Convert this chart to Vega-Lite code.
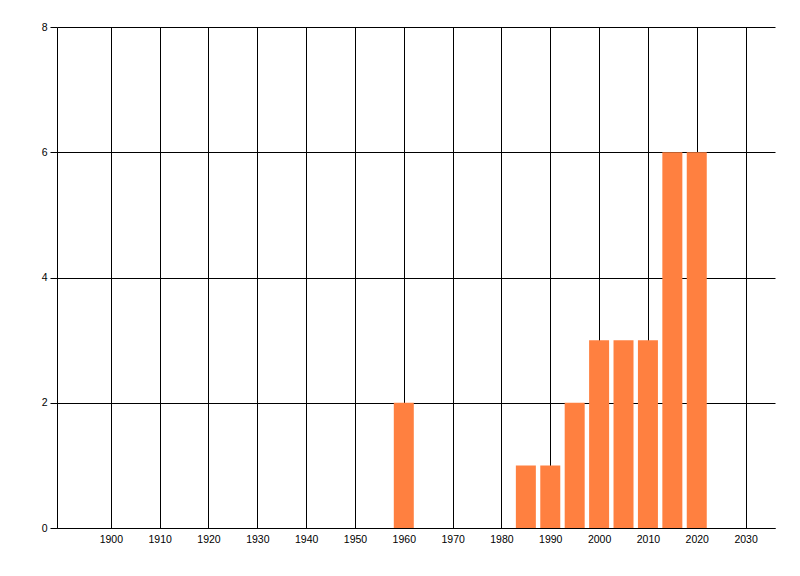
{
  "$schema": "https://vega.github.io/schema/vega-lite/v6.json",
  "width": 718,
  "height": 501,
  "autosize": "none",
  "padding": {"left": 57, "top": 27, "right": 25, "bottom": 48},
  "background": "white",
  "config": {"view": {"stroke": null}},
  "data": {
    "values": [
      {"year": 1960, "count": 2},
      {"year": 1985, "count": 1},
      {"year": 1990, "count": 1},
      {"year": 1995, "count": 2},
      {"year": 2000, "count": 3},
      {"year": 2005, "count": 3},
      {"year": 2010, "count": 3},
      {"year": 2015, "count": 6},
      {"year": 2020, "count": 6}
    ]
  },
  "mark": {"type": "bar", "width": 20, "color": "#ff8040"},
  "encoding": {
    "x": {
      "field": "year",
      "type": "quantitative",
      "scale": {"domain": [1890, 2035], "nice": false, "zero": false},
      "axis": {
        "title": null,
        "values": [1900, 1910, 1920, 1930, 1940, 1950, 1960, 1970, 1980, 1990, 2000, 2010, 2020, 2030],
        "format": "d",
        "grid": true,
        "gridColor": "black",
        "gridOpacity": 1,
        "gridWidth": 1,
        "domainColor": "black",
        "domainWidth": 1,
        "ticks": false,
        "labelPadding": 6,
        "labelFont": "Liberation Sans",
        "labelFontSize": 10.5,
        "labelColor": "black"
      }
    },
    "y": {
      "field": "count",
      "type": "quantitative",
      "scale": {"domain": [0, 8], "nice": false},
      "axis": {
        "title": null,
        "values": [0, 2, 4, 6, 8],
        "grid": true,
        "gridColor": "black",
        "gridOpacity": 1,
        "gridWidth": 1,
        "domainColor": "black",
        "domainWidth": 1,
        "ticks": true,
        "tickSize": 7,
        "tickColor": "black",
        "labelPadding": 3,
        "labelFont": "Liberation Sans",
        "labelFontSize": 10.5,
        "labelColor": "black"
      }
    }
  }
}
